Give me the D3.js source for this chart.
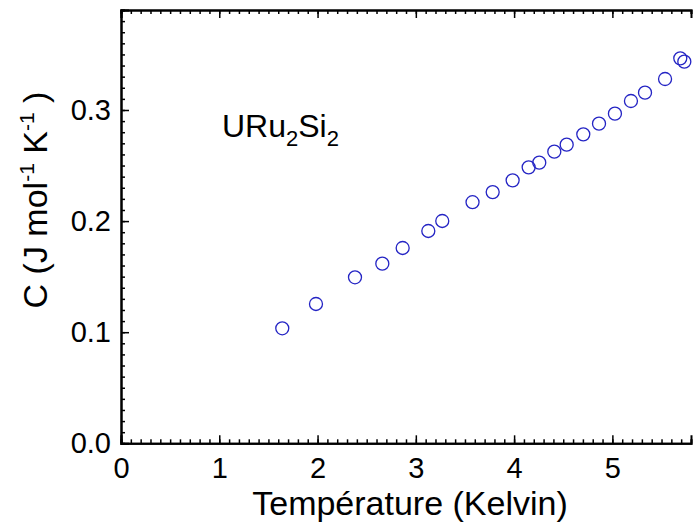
<!DOCTYPE html>
<html>
<head>
<meta charset="utf-8">
<script src="https://cdn.jsdelivr.net/npm/d3@7"></script>
<style>
  html, body { margin: 0; padding: 0; background: #fff; }
  svg { display: block; font-family: "Liberation Sans", Arial, Helvetica, sans-serif; }
</style>
</head>
<body>
<svg id="chart" width="693" height="525"></svg>
<script>
// Specific heat of URu2Si2 at low temperature
const temperature = [1.641, 1.984, 2.381, 2.659, 2.866, 3.127, 3.269, 3.577, 3.782, 3.985,
  4.148, 4.256, 4.409, 4.535, 4.704, 4.864, 5.026, 5.189, 5.332, 5.536, 5.691, 5.732];
const heatCapacity = [0.1035, 0.1254, 0.1494, 0.1617, 0.1758, 0.1911, 0.2001, 0.2170, 0.2261, 0.2367,
  0.2484, 0.2526, 0.2625, 0.2688, 0.2781, 0.2877, 0.2967, 0.3081, 0.3156, 0.3279, 0.3465, 0.3435];
const xTicks = [0, 1, 2, 3, 4, 5];
const yTicks = [0.0, 0.1, 0.2, 0.3];

const svg = d3.select("#chart");
const plotLeft = 121, plotRight = 691, plotTop = 10, plotBottom = 443.3;

const x = d3.scaleLinear().domain([0, 5.8]).range([plotLeft, plotRight]);
const y = d3.scaleLinear().domain([0, 0.39]).range([plotBottom, plotTop]);

const xMinor = d3.range(0, 5.8001, 0.1).map(v => +v.toFixed(2));
const yMinor = d3.range(0, 0.39001, 0.01).map(v => +v.toFixed(3));

function styleAxis(g, labelSize) {
  g.select(".domain").attr("stroke", "#000").attr("stroke-width", 2);
  g.selectAll(".tick line").attr("stroke", "#000").attr("stroke-width", 1.5);
  g.selectAll(".tick text").attr("fill", "#000").style("font-size", labelSize + "px");
}

// minor ticks (inward)
svg.append("g").attr("transform", `translate(0,${plotBottom})`)
  .call(d3.axisBottom(x).tickValues(xMinor).tickSize(-4).tickFormat(""))
  .call(g => styleAxis(g, 0));
svg.append("g").attr("transform", `translate(0,${plotTop})`)
  .call(d3.axisTop(x).tickValues(xMinor).tickSize(-4).tickFormat(""))
  .call(g => styleAxis(g, 0));
svg.append("g").attr("transform", `translate(${plotLeft},0)`)
  .call(d3.axisLeft(y).tickValues(yMinor).tickSize(-4).tickFormat(""))
  .call(g => styleAxis(g, 0));

// major ticks with labels
svg.append("g").attr("transform", `translate(0,${plotBottom})`)
  .call(d3.axisBottom(x).tickValues(xTicks).tickSize(-8).tickPadding(14).tickFormat(d3.format("d")))
  .call(g => styleAxis(g, 29));
svg.append("g").attr("transform", `translate(0,${plotTop})`)
  .call(d3.axisTop(x).tickValues(xTicks).tickSize(-8).tickFormat(""))
  .call(g => styleAxis(g, 0));
svg.append("g").attr("transform", `translate(${plotLeft},0)`)
  .call(d3.axisLeft(y).tickValues(yTicks).tickSize(-8).tickPadding(10).tickFormat(d3.format(".1f")))
  .call(g => styleAxis(g, 29));

// data points
svg.append("g").selectAll("circle")
  .data(temperature.map((t, i) => [t, heatCapacity[i]]))
  .join("circle")
  .attr("cx", d => x(d[0]))
  .attr("cy", d => y(d[1]))
  .attr("r", 6.5)
  .attr("fill", "none")
  .attr("stroke", "#2424c4")
  .attr("stroke-width", 1.3);

// axis titles
svg.append("text")
  .attr("x", 410)
  .attr("y", 515)
  .attr("text-anchor", "middle")
  .style("font-size", "34px")
  .text("Température (Kelvin)");

const yt = svg.append("text")
  .attr("transform", "translate(47,200) rotate(-90)")
  .attr("text-anchor", "middle")
  .style("font-size", "34px");
yt.append("tspan").text("C (J mol");
yt.append("tspan").attr("dy", -13).style("font-size", "21px").text("-1");
yt.append("tspan").attr("dy", 13).text(" K");
yt.append("tspan").attr("dy", -13).style("font-size", "21px").text("-1");
yt.append("tspan").attr("dy", 13).text(" )");

// compound label
const lab = svg.append("text")
  .attr("x", 222)
  .attr("y", 137)
  .style("font-size", "32px");
lab.append("tspan").text("URu");
lab.append("tspan").attr("dy", 9).style("font-size", "22px").text("2");
lab.append("tspan").attr("dy", -9).text("Si");
lab.append("tspan").attr("dy", 9).style("font-size", "22px").text("2");
</script>
</body>
</html>
